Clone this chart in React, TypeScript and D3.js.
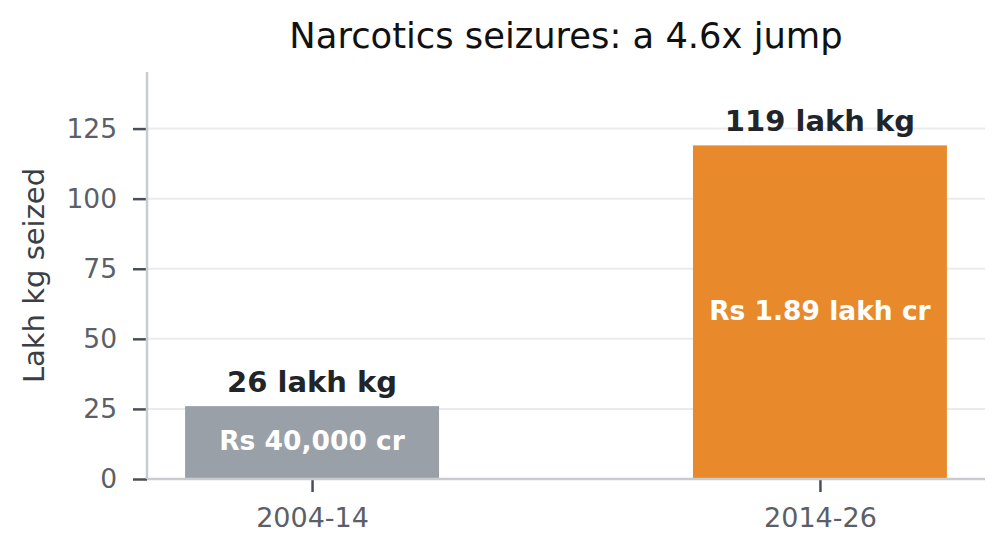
import React, { useRef, useEffect } from "react";
import * as d3 from "d3";

const periods = ["2004-14", "2014-26"];
const seized = [26, 119];
const valueLabels = ["26 lakh kg", "119 lakh kg"];
const innerLabels = ["Rs 40,000 cr", "Rs 1.89 lakh cr"];
const barColors = ["#9aa0a8", "#e8892b"];
const yTicks = [0, 25, 50, 75, 100, 125];

const App: React.FC = () => {
    const svgRef = useRef<SVGSVGElement | null>(null);

    useEffect(() => {
        if (!svgRef.current) return;
        const width = 1005;
        const height = 555;
        const marginLeft = 147;
        const marginRight = 20;
        const marginTop = 72;
        const marginBottom = 76;
        const font = "DejaVu Sans, sans-serif";

        const x = d3.scaleLinear()
            .domain([-0.325, 1.325])
            .range([marginLeft, width - marginRight]);
        const y = d3.scaleLinear()
            .domain([0, 119 * 1.22])
            .range([height - marginBottom, marginTop]);
        const barW = x(0.25) - x(-0.25);

        const svg = d3.select(svgRef.current)
            .attr("width", width)
            .attr("height", height)
            .attr("viewBox", `0 0 ${width} ${height}`)
            .style("display", "block")
            .style("font-family", font);
        svg.selectAll("*").remove();

        // grid
        svg.append("g")
            .selectAll("line")
            .data(yTicks.slice(1))
            .join("line")
            .attr("x1", marginLeft)
            .attr("x2", width - marginRight)
            .attr("y1", d => y(d))
            .attr("y2", d => y(d))
            .attr("stroke", "#e9ebed")
            .attr("stroke-width", 2);

        // bars
        svg.append("g")
            .selectAll("rect")
            .data(seized)
            .join("rect")
            .attr("x", (_, i) => x(i) - barW / 2)
            .attr("y", d => y(d))
            .attr("width", barW)
            .attr("height", d => y(0) - y(d))
            .attr("fill", (_, i) => barColors[i]);

        // y axis
        svg.append("g")
            .attr("transform", `translate(${marginLeft},0)`)
            .call(d3.axisLeft(y).tickValues(yTicks).tickSize(14).tickPadding(16))
            .call(g => g.select(".domain").remove())
            .call(g => g.selectAll(".tick line").attr("stroke", "#4a4f57").attr("stroke-width", 2.5))
            .call(g => g.selectAll(".tick text")
                .attr("fill", "#5a5f68")
                .attr("font-size", "26.5px")
                .attr("font-family", font));

        // x axis
        svg.append("g")
            .attr("transform", `translate(0,${y(0)})`)
            .call(d3.axisBottom(x).tickValues([0, 1]).tickFormat((_, i) => periods[i]).tickSize(13).tickPadding(16))
            .call(g => g.select(".domain").remove())
            .call(g => g.selectAll(".tick line").attr("stroke", "#4a4f57").attr("stroke-width", 2.5))
            .call(g => g.selectAll(".tick text")
                .attr("fill", "#5a5f68")
                .attr("font-size", "27px")
                .attr("font-family", font));

        // spines
        svg.append("line")
            .attr("x1", marginLeft).attr("x2", marginLeft)
            .attr("y1", marginTop).attr("y2", y(0))
            .attr("stroke", "#c8ccd0").attr("stroke-width", 2.5);
        svg.append("line")
            .attr("x1", marginLeft).attr("x2", width - marginRight)
            .attr("y1", y(0)).attr("y2", y(0))
            .attr("stroke", "#c8ccd0").attr("stroke-width", 2.5);

        // value labels
        svg.append("g")
            .selectAll("text")
            .data(seized)
            .join("text")
            .attr("x", (_, i) => x(i))
            .attr("y", d => y(d) - 14)
            .attr("text-anchor", "middle")
            .attr("font-size", "29px")
            .attr("font-weight", "bold")
            .attr("fill", "#212529")
            .text((_, i) => valueLabels[i]);

        svg.append("g")
            .selectAll("text")
            .data(seized)
            .join("text")
            .attr("x", (_, i) => x(i))
            .attr("y", d => y(d / 2))
            .attr("dy", "0.28em")
            .attr("text-anchor", "middle")
            .attr("font-size", "26.5px")
            .attr("font-weight", "bold")
            .attr("fill", "#ffffff")
            .text((_, i) => innerLabels[i]);

        // y label
        svg.append("text")
            .attr("transform", `translate(34,${(marginTop + y(0)) / 2}) rotate(-90)`)
            .attr("dy", "0.35em")
            .attr("text-anchor", "middle")
            .attr("font-size", "29px")
            .attr("fill", "#3a3f45")
            .text("Lakh kg seized");

        // title
        svg.append("text")
            .attr("x", x(0.5))
            .attr("y", 36)
            .attr("dy", "0.35em")
            .attr("text-anchor", "middle")
            .attr("font-size", "35.3px")
            .attr("fill", "#111")
            .text("Narcotics seizures: a 4.6x jump");
    }, []);

    return <svg ref={svgRef} style={{ margin: -8 }} />;
};

export default App;
